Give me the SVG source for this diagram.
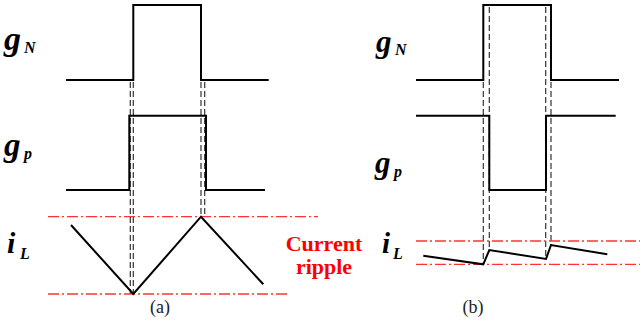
<svg xmlns="http://www.w3.org/2000/svg" width="640" height="320" viewBox="0 0 640 320">
<style>
.wave{fill:none;stroke:#000;stroke-width:2;stroke-linejoin:miter}
.dash{fill:none;stroke:#333;stroke-width:1.2;stroke-dasharray:6 3}
.ref{fill:none;stroke:#f33;stroke-width:1.3;stroke-dasharray:11 3 2 3}
.g{font-family:"Liberation Serif",serif;font-weight:bold;font-style:italic;fill:#000}
.sub{font-family:"Liberation Serif",serif;font-weight:bold;font-style:italic;fill:#000;font-size:16px}
.red{font-family:"Liberation Serif",serif;font-weight:bold;fill:#f00;font-size:22px;text-anchor:middle}
.cap{font-family:"Liberation Serif",serif;fill:#222;font-size:18px;text-anchor:middle}
</style>
<rect width="640" height="320" fill="#fff"/>
<g id="labels-a">
<text class="g" x="4" y="50" font-size="34">g</text><text class="sub" x="24" y="53">N</text>
<text class="g" x="4" y="156" font-size="33">g</text><text class="sub" x="24" y="159">p</text>
<text class="g" x="7" y="253" font-size="30">i</text><text class="sub" x="20" y="259">L</text>
</g>
<g id="labels-b">
<text class="g" x="376" y="52" font-size="31">g</text><text class="sub" x="395" y="55">N</text>
<text class="g" x="375" y="173" font-size="31">g</text><text class="sub" x="394" y="177">p</text>
<text class="g" x="382" y="253" font-size="29">i</text><text class="sub" x="393" y="259">L</text>
</g>
<g id="ripple-label">
<text class="red" x="324" y="251">Current</text>
<text class="red" x="324" y="274">ripple</text>
</g>
<g id="captions">
<text class="cap" x="160" y="313">(a)</text>
<text class="cap" x="473" y="313">(b)</text>
</g>
<g id="connectors">
<path class="dash" d="M130.3 82V294M133.3 82V294M201 82V216.7M204.7 82V216.7"/>
<path class="dash" d="M483.3 82V264M489.3 7V250M545.7 7V259M551 82V245"/>
<path class="ref" d="M48 216.7H318M48 294H290"/>
<path class="ref" d="M416 241H640M416 264.3H640"/>
</g>
<g id="wave-a">
<path class="wave" d="M66 80H133.3V5H201V80H268.7"/>
<path class="wave" d="M66 190H129.3V115.7H206V190H265"/>
<path class="wave" d="M71 225L133.3 294L201 216.7L263.3 284.3"/>
</g>
<g id="wave-b">
<path class="wave" d="M416 80H483.3V5H551V80H619"/>
<path class="wave" d="M416 115.7H489.3V190H546V115.7H615.7"/>
<path class="wave" d="M423.3 255.7L483.3 264.3L489.3 250L546 259L551 245L607.3 254.3"/>
</g>
</svg>
